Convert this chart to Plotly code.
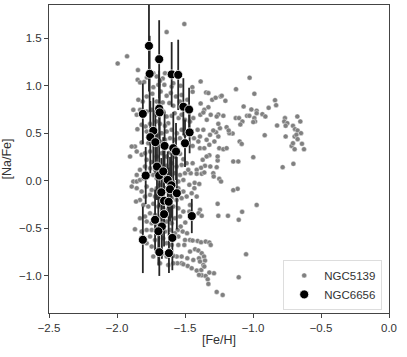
import plotly.graph_objects as go

# NGC5139 (omega Cen) stars: [Fe/H], [Na/Fe]
ngc5139_feh = [
    -1.505, -1.635, -1.995, -1.926, -1.846, -1.025, -1.125, -0.99, -1.385, -1.446,
    -1.444, -1.345, -1.328, -1.238, -1.23, -1.30, -1.275, -1.203, -1.385, -1.328,
    -1.358, -1.069, -1.012, -0.973, -0.973, -0.838, -0.83, -0.885, -0.931, -0.909,
    -1.044, -1.027, -0.99, -0.985, -1.127, -1.103, -1.078, -1.218, -1.255, -1.267,
    -1.311, -1.34, -1.387, -1.365, -0.765, -0.77, -0.748, -0.76, -0.674, -0.652,
    -0.706, -0.691, -0.672, -0.647, -0.76, -0.694, -0.681, -0.672, -0.716, -0.706,
    -0.694, -0.64, -0.625, -0.703, -0.782, -0.823, -0.914, -0.998, -0.998, -1.093,
    -1.098, -1.083, -1.15, -1.174, -1.194, -1.179, -1.145, -1.108, -1.113, -1.145,
    -0.973, -1.08, -1.105, -1.051, -1.105, -1.184, -1.255, -1.26, -1.248, -1.235,
    -1.267, -1.26, -1.26, -1.248, -1.218, -1.194, -1.284, -1.321, -1.341, -1.255,
    -1.272, -1.243, -1.255, -1.292, -1.316, -1.365, -1.407, -1.39, -1.434, -1.402,
    -1.444, -1.39, -1.358, -1.321, -1.341, -1.37, -1.353, -1.382, -1.414, -1.444,
    -1.458, -1.414, -1.377, -1.358, -1.314, -1.292, -1.289, -1.429, -1.395, -1.468,
    -1.431, -1.451, -1.414, -1.39, -1.40, -1.377, -1.463, -1.468, -1.451, -1.498,
    -1.532, -1.554, -1.517, -1.485, -1.463, -1.444, -1.407, -1.382, -1.348, -1.321,
    -1.311, -1.5, -1.505, -1.549, -1.463, -1.426, -1.402, -1.377, -1.36, -1.397,
    -1.353, -1.365, -1.39, -1.439, -1.483, -1.525, -1.561, -1.525, -1.556, -1.512,
    -1.48, -1.451, -1.414, -1.38, -1.358, -1.377, -1.348, -1.333, -1.328, -1.287,
    -1.397, -1.321, -1.267, -1.223,
    -1.848, -1.83, -1.80, -1.78, -1.733, -1.708, -1.664, -1.647, -1.684, -1.733,
    -1.696, -1.652, -1.598, -1.586, -1.532, -1.525, -1.566, -1.605, -1.635, -1.679,
    -1.74, -1.782, -1.811, -1.843, -1.615, -1.586, -1.537, -1.488, -1.483, -1.664,
    -1.708,
    -1.88, -1.855, -1.83, -1.782, -1.745, -1.708, -1.66, -1.635, -1.598, -1.576,
    -1.547, -1.525, -1.5, -1.463, -1.439, -1.623, -1.647, -1.684, -1.71, -1.757,
    -1.79, -1.819, -1.85, -1.782, -1.745, -1.708, -1.672, -1.635, -1.598, -1.56,
    -1.525, -1.5, -1.537, -1.574, -1.61, -1.647, -1.684, -1.733, -1.77, -1.819,
    -1.868, -1.892,
    -1.904, -1.855, -1.819, -1.794, -1.757, -1.782, -1.745, -1.708, -1.672, -1.635,
    -1.61, -1.574, -1.537, -1.512, -1.488, -1.525, -1.562, -1.598, -1.635, -1.672,
    -1.72, -1.757, -1.794, -1.831, -1.855, -1.88, -1.855, -1.831, -1.806, -1.77,
    -1.733, -1.708, -1.647, -1.61, -1.574, -1.537, -1.5, -1.476, -1.512, -1.549,
    -1.586,
    -1.892, -1.855, -1.819, -1.782, -1.745, -1.708, -1.684, -1.647, -1.549, -1.512,
    -1.488, -1.525, -1.562, -1.598, -1.684, -1.72, -1.757, -1.794, -1.831, -1.86,
    -1.806, -1.77, -1.733, -1.696, -1.66, -1.623, -1.586, -1.549, -1.512, -1.537,
    -1.574, -1.61, -1.684, -1.72, -1.757, -1.794, -1.831, -1.782, -1.745, -1.708,
    -1.635, -1.598, -1.868, -1.819, -1.782, -1.745, -1.708, -1.647, -1.61, -1.574,
    -1.549,
    -1.757, -1.72, -1.66, -1.635, -1.598, -1.782, -1.745, -1.708, -1.66, -1.635,
    -1.586, -1.733, -1.684, -1.623, -1.586,
]
ngc5139_nafe = [
    1.65, 1.565, 1.235, 1.31, 1.165, 1.085, 0.965, 0.916, 1.046, 0.986,
    0.937, 0.93, 0.923, 0.888, 0.895, 0.853, 0.874, 0.842, 0.814, 0.775,
    0.747, 0.782, 0.751, 0.737, 0.712, 0.849, 0.796, 0.768, 0.702, 0.677,
    0.684, 0.684, 0.66, 0.625, 0.66, 0.66, 0.625, 0.684, 0.698, 0.677,
    0.695, 0.642, 0.695, 0.719, 0.66, 0.625, 0.607, 0.579, 0.677, 0.625,
    0.579, 0.544, 0.53, 0.502, 0.467, 0.467, 0.484, 0.439, 0.368, 0.396,
    0.333, 0.39, 0.333, 0.179, 0.144, 0.582, 0.48, 0.249, 0.618, 0.593,
    0.414, 0.389, 0.498, 0.502, 0.565, 0.53, 0.204, 0.204, -0.084, -0.098,
    -0.253, -0.326, -0.41, -0.772, -1.014, -0.368, -0.368, -0.242, 0.021, -0.007,
    0.144, 0.214, 0.256, 0.344, 0.333, 0.344, 0.414, 0.379, 0.432, 0.467,
    0.512, 0.554, 0.6, 0.53, 0.484, 0.537, 0.537, 0.467, 0.449, 0.414,
    0.368, 0.344, 0.344, 0.27, 0.256, 0.221, 0.158, 0.137, 0.116, 0.186,
    0.081, 0.074, 0.074, 0.088, 0.151, 0.081, 0.046, -0.021, -0.032, -0.042,
    -0.077, -0.13, -0.165, -0.305, -0.34, -0.368, -0.253, -0.323, -0.375, -0.439,
    -0.481, -0.516, -0.533, -0.551, -0.621, -0.628, -0.632, -0.646, -0.639, -0.649,
    -0.674, -0.621, -0.674, -0.674, -0.744, -0.719, -0.733, -0.761, -0.796, -0.814,
    -0.839, -0.884, -0.849, -0.832, -0.814, -0.796, -0.796, -0.867, -0.867, -0.877,
    -0.895, -0.919, -0.944, -0.937, -0.902, -0.993, -1.0, -1.035, -1.084, -0.972,
    -0.989, -0.965, -1.168, -1.2,
    1.063, 1.035, 1.04, 1.088, 1.133, 1.098, 1.077, 1.133, 1.053, 0.986,
    1.01, 1.01, 0.993, 1.028, 1.0, 0.902, 0.888, 0.923, 0.895, 0.94,
    0.916, 0.888, 0.835, 0.853, 0.818, 0.79, 0.835, 0.782, 0.853, 0.825,
    0.835,
    0.747, 0.695, 0.747, 0.73, 0.747, 0.695, 0.73, 0.677, 0.684, 0.712,
    0.66, 0.695, 0.642, 0.625, 0.66, 0.607, 0.579, 0.6, 0.625, 0.6,
    0.572, 0.59, 0.544, 0.519, 0.502, 0.484, 0.502, 0.519, 0.537, 0.502,
    0.537, 0.484, 0.449, 0.432, 0.449, 0.432, 0.414, 0.439, 0.396, 0.404,
    0.361, 0.361,
    0.256, 0.309, 0.274, 0.291, 0.309, 0.221, 0.196, 0.256, 0.291, 0.256,
    0.298, 0.256, 0.284, 0.228, 0.186, 0.168, 0.151, 0.186, 0.158, 0.133,
    0.116, 0.133, 0.151, 0.116, 0.063, -0.007, -0.007, 0.01, 0.028, 0.063,
    0.063, 0.028, 0.046, 0.063, 0.081, 0.063, 0.081, 0.116, 0.01, -0.007,
    -0.018,
    -0.06, -0.077, -0.112, -0.06, -0.095, -0.077, -0.042, -0.077, -0.077, -0.112,
    -0.165, -0.182, -0.2, -0.182, -0.182, -0.165, -0.147, -0.165, -0.2, -0.218,
    -0.253, -0.27, -0.242, -0.27, -0.288, -0.305, -0.27, -0.288, -0.323, -0.375,
    -0.393, -0.375, -0.375, -0.358, -0.34, -0.375, -0.393, -0.428, -0.446, -0.463,
    -0.428, -0.446, -0.509, -0.533, -0.516, -0.516, -0.551, -0.533, -0.516, -0.551,
    -0.586,
    -0.586, -0.621, -0.603, -0.656, -0.674, -0.656, -0.691, -0.726, -0.761, -0.796,
    -0.789, -0.796, -0.867, -0.884, -0.867,
]

# NGC6656 (M22) stars: [Fe/H], [Na/Fe], error on [Na/Fe]
ngc6656_feh = [
    -1.765, -1.76, -1.69, -1.598, -1.55, -1.81, -1.69, -1.686, -1.512, -1.47,
    -1.466, -1.733, -1.755, -1.718, -1.50, -1.65, -1.586, -1.566, -1.706, -1.789,
    -1.69, -1.66, -1.627, -1.60, -1.674, -1.61, -1.56, -1.654, -1.62, -1.654,
    -1.45, -1.72, -1.67, -1.696, -1.593, -1.81, -1.689, -1.618,
]
ngc6656_nafe = [
    1.42, 1.126, 1.28, 1.12, 1.115, 0.705, 0.76, 0.72, 0.78, 0.75,
    0.51, 0.526, 0.46, 0.407, 0.396, 0.368, 0.344, 0.309, 0.15, 0.056,
    0.056, 0.10, 0.01, -0.046, -0.12, -0.088, -0.13, -0.21, -0.22, -0.35,
    -0.37, -0.41, -0.48, -0.53, -0.60, -0.62, -0.75, -0.76,
]
ngc6656_err = [
    0.48, 0.40, 0.41, 0.34, 0.37, 0.32, 0.40, 0.36, 0.30, 0.23,
    0.22, 0.35, 0.38, 0.34, 0.25, 0.36, 0.38, 0.30, 0.35, 0.30,
    0.33, 0.36, 0.30, 0.34, 0.36, 0.34, 0.38, 0.32, 0.36, 0.34,
    0.18, 0.32, 0.34, 0.36, 0.34, 0.35, 0.25, 0.21,
]

fig = go.Figure()

fig.add_trace(
    go.Scatter(
        x=ngc5139_feh,
        y=ngc5139_nafe,
        mode="markers",
        name="NGC5139",
        marker={"color": "#808080", "size": 5, "line": {"color": "white", "width": 0.4}},
    )
)
fig.add_trace(
    go.Scatter(
        x=ngc6656_feh,
        y=ngc6656_nafe,
        mode="markers",
        name="NGC6656",
        marker={"color": "black", "size": 9, "line": {"color": "white", "width": 0.8}},
        error_y={
            "type": "data",
            "array": ngc6656_err,
            "visible": True,
            "color": "#262626",
            "thickness": 1.8,
            "width": 0,
        },
    )
)

axis_common = dict(
    showgrid=False,
    zeroline=False,
    showline=True,
    linecolor="#444",
    linewidth=1,
    mirror=True,
    ticks="outside",
    ticklen=4,
    tickcolor="#444",
    tickfont={"size": 11.5, "color": "#333"},
)

fig.update_layout(
    width=407,
    height=357,
    margin={"l": 49, "r": 18, "t": 5, "b": 44},
    plot_bgcolor="white",
    paper_bgcolor="white",
    font={"family": "Liberation Sans, Arial, sans-serif", "color": "#333"},
    xaxis=dict(
        axis_common,
        range=[-2.5, 0.0],
        dtick=0.5,
        tickformat=".1f",
        title={"text": "[Fe/H]", "font": {"size": 12.5}, "standoff": 2},
    ),
    yaxis=dict(
        axis_common,
        range=[-1.39, 1.85],
        tickvals=[-1.0, -0.5, 0.0, 0.5, 1.0, 1.5],
        tickformat=".1f",
        title={"text": "[Na/Fe]", "font": {"size": 12.5}, "standoff": 4},
    ),
    legend={
        "x": 0.98,
        "y": 0.01,
        "xanchor": "right",
        "yanchor": "bottom",
        "bordercolor": "#ddd",
        "borderwidth": 1,
        "bgcolor": "rgba(255,255,255,0.8)",
        "font": {"size": 11.5, "color": "#333"},
        "tracegroupgap": 2,
    },
)

fig.write_html(
    "out.html",
    config={"displayModeBar": False},
    post_script="document.body.style.margin='0';",
)
